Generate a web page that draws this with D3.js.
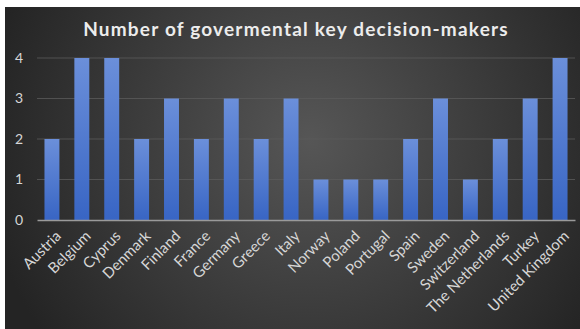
<!DOCTYPE html>
<html>
<head>
<meta charset="utf-8">
<script src="https://cdn.jsdelivr.net/npm/d3@7"></script>
<style>
  html, body { margin: 0; padding: 0; background: #fff; }
  svg { display: block; }
</style>
</head>
<body>
<script>
const countries = ['Austria', 'Belgium', 'Cyprus', 'Denmark', 'Finland', 'France', 'Germany', 'Greece', 'Italy',
  'Norway', 'Poland', 'Portugal', 'Spain', 'Sweden', 'Switzerland', 'The Netherlands', 'Turkey', 'United Kingdom']
const decisionMakers = [2, 4, 4, 2, 3, 2, 3, 2, 3, 1, 1, 1, 2, 3, 1, 2, 3, 4]
const yTicks = [0, 1, 2, 3, 4]
const title = 'Number of govermental key decision-makers'

const w = 580
const h = 329
const margin = { top: 58, right: 5, bottom: 109, left: 37 }
const width = w - margin.left - margin.right
const height = h - margin.top - margin.bottom

const svg = d3.select('body').append('svg')
  .attr('width', w)
  .attr('height', h)

const defs = svg.append('defs')
const bg = defs.append('radialGradient')
  .attr('id', 'bg')
  .attr('gradientUnits', 'userSpaceOnUse')
  .attr('cx', 310).attr('cy', 140).attr('r', 330)
bg.append('stop').attr('offset', '0%').attr('stop-color', '#565656')
bg.append('stop').attr('offset', '100%').attr('stop-color', '#242424')

const barGrad = defs.append('linearGradient')
  .attr('id', 'bar')
  .attr('x1', 0).attr('y1', 0).attr('x2', 0).attr('y2', 1)
barGrad.append('stop').attr('offset', '0%').attr('stop-color', '#6b8fda')
barGrad.append('stop').attr('offset', '100%').attr('stop-color', '#3865c4')

svg.append('rect')
  .attr('x', 5).attr('y', 7)
  .attr('width', w - 5).attr('height', h - 7)
  .attr('fill', 'url(#bg)')

svg.append('text')
  .attr('x', 296)
  .attr('y', 36)
  .attr('text-anchor', 'middle')
  .attr('fill', '#ececec')
  .attr('font-family', 'Lato, sans-serif')
  .attr('font-weight', 'bold')
  .attr('font-size', 19)
  .attr('letter-spacing', 1.2)
  .text(title)

const g = svg.append('g').attr('transform', 'translate(' + margin.left + ',' + margin.top + ')')

const x = d3.scaleBand().domain(countries).range([0, width]).paddingInner(0.5).paddingOuter(0.25)
const y = d3.scaleLinear().domain([0, 4]).range([height, 0])

// gridlines
g.selectAll('.grid')
  .data(yTicks.slice(1))
  .enter().append('line')
  .attr('class', 'grid')
  .attr('x1', 0).attr('x2', width)
  .attr('y1', d => y(d)).attr('y2', d => y(d))
  .attr('stroke', '#5a5a5a')
  .attr('stroke-width', 0.8)

const yAxis = g.append('g')
  .call(d3.axisLeft(y).tickValues(yTicks).tickSize(0).tickPadding(14).tickFormat(d3.format('d')))
yAxis.select('.domain').remove()
yAxis.selectAll('text')
  .attr('fill', '#d6d6d6')
  .attr('font-family', 'Lato, sans-serif')
  .attr('font-size', 14)

g.selectAll('.bar')
  .data(decisionMakers)
  .enter().append('rect')
  .attr('class', 'bar')
  .attr('x', (d, i) => x(countries[i]))
  .attr('y', d => y(d))
  .attr('width', x.bandwidth())
  .attr('height', d => height - y(d))
  .attr('fill', 'url(#bar)')

const xAxis = g.append('g')
  .attr('transform', 'translate(0,' + height + ')')
  .call(d3.axisBottom(x).tickSize(0).tickPadding(0))
xAxis.select('.domain')
  .attr('stroke', '#9a9a9a')
  .attr('stroke-width', 1.5)
xAxis.selectAll('text')
  .attr('fill', '#d6d6d6')
  .attr('font-family', 'Lato, sans-serif')
  .attr('font-size', 15)
  .attr('text-anchor', 'end')
  .attr('dy', 0)
  .attr('transform', 'translate(10,17) rotate(-45)')
</script>
</body>
</html>
